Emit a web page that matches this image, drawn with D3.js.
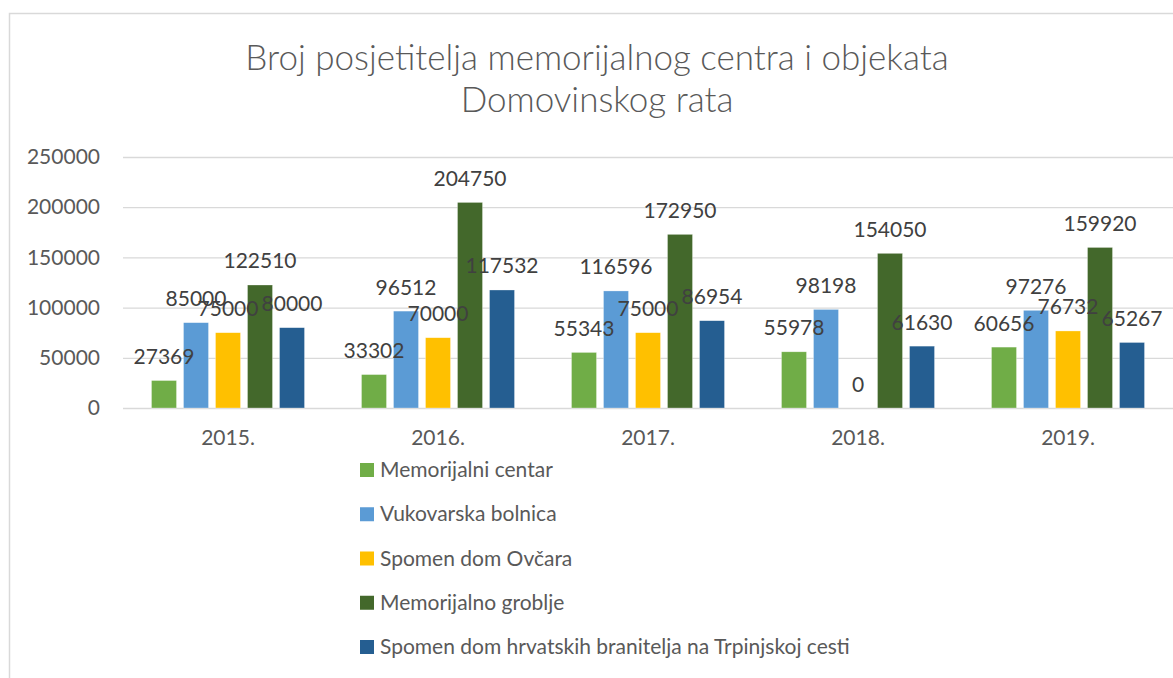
<!DOCTYPE html>
<html>
<head>
<meta charset="utf-8">
<script src="https://cdn.jsdelivr.net/npm/d3@7"></script>
<style>
  body { margin: 0; background: #fff; }
  text { font-family: Lato, 'Open Sans', sans-serif; }
</style>
</head>
<body>
<script>
var years = ['2015.', '2016.', '2017.', '2018.', '2019.']
var seriesNames = ['Memorijalni centar', 'Vukovarska bolnica', 'Spomen dom Ovčara', 'Memorijalno groblje', 'Spomen dom hrvatskih branitelja na Trpinjskoj cesti']
var seriesColors = ['#70ad47', '#5b9bd5', '#ffc000', '#43682b', '#255e91']
var memorijalniCentar = [27369, 33302, 55343, 55978, 60656]
var vukovarskaBolnica = [85000, 96512, 116596, 98198, 97276]
var spomenDomOvcara = [75000, 70000, 75000, 0, 76732]
var memorijalnoGroblje = [122510, 204750, 172950, 154050, 159920]
var spomenDomTrpinjska = [80000, 117532, 86954, 61630, 65267]
var yTicks = [0, 50000, 100000, 150000, 200000, 250000]
var titleLines = ['Broj posjetitelja memorijalnog centra i objekata', 'Domovinskog rata']

var series = [memorijalniCentar, vukovarskaBolnica, spomenDomOvcara, memorijalnoGroblje, spomenDomTrpinjska]

// flat list of {year, series index, value}, used for bars and labels
var cells = []
series.forEach(function(vals, si){
  vals.forEach(function(v, i){ cells.push({year: years[i], si: si, value: v}) })
})

var W = 1173, H = 678
var svg = d3.select('body').append('svg').attr('width', W).attr('height', H)

// chart area border (runs off the right/bottom edge like the screenshot)
svg.append('rect')
    .attr('x', 9.5).attr('y', 13.5).attr('width', W + 20).attr('height', H + 20)
    .style('fill', '#fff').style('stroke', '#d9d9d9').style('stroke-width', 1.5)

svg.append('g').selectAll('text').data(titleLines).join('text')
    .attr('x', 597).attr('y', function(d, i){ return 70 + i * 42 })
    .attr('text-anchor', 'middle')
    .style('font-size', '35px').style('font-weight', 300).style('fill', '#595959')
    .text(function(d){ return d })

var x0 = d3.scaleBand().domain(years).range([123, W]).paddingInner(0.2714).paddingOuter(0.1357)
var x1 = d3.scaleBand().domain(d3.range(series.length)).range([0, x0.bandwidth()]).paddingInner(7 / 32)
var y = d3.scaleLinear().domain([0, 250000]).range([408, 157])

var yAxis = svg.append('g').attr('transform', 'translate(123,0)')
    .call(d3.axisLeft(y).tickValues(yTicks).tickSize(-(W - 123)).tickPadding(23).tickFormat(d3.format('d')))
yAxis.select('.domain').remove()
yAxis.selectAll('line').style('stroke', '#d9d9d9').style('stroke-width', 1.3)
yAxis.selectAll('text').style('font-size', '21px').style('fill', '#595959')

var xAxis = svg.append('g').attr('transform', 'translate(0,408)')
    .call(d3.axisBottom(x0).tickSize(0).tickPadding(0))
xAxis.select('.domain').remove()
xAxis.selectAll('text').attr('y', 37).attr('dy', 0).style('font-size', '21px').style('fill', '#595959')

function cx(d){ return x0(d.year) + x1(d.si) }

svg.append('g').selectAll('rect').data(cells).join('rect')
    .attr('x', cx)
    .attr('y', function(d){ return y(d.value) })
    .attr('width', x1.bandwidth())
    .attr('height', function(d){ return y(0) - y(d.value) })
    .style('fill', function(d){ return seriesColors[d.si] })
    .style('stroke', '#fff').style('stroke-width', 0.6).style('stroke-opacity', 0.5)

svg.append('g').selectAll('text').data(cells).join('text')
    .attr('x', function(d){ return cx(d) + x1.bandwidth() / 2 })
    .attr('y', function(d){ return y(d.value) - 16.5 })
    .attr('text-anchor', 'middle')
    .style('font-size', '21px').style('fill', '#404040')
    .text(function(d){ return d.value })

var legend = svg.append('g').selectAll('g').data(seriesNames).join('g')
    .attr('transform', function(d, i){ return 'translate(360,' + (463 + i * 44.25) + ')' })
legend.append('rect').attr('width', 14).attr('height', 14)
    .style('fill', function(d, i){ return seriesColors[i] })
legend.append('text').attr('x', 20).attr('y', 14)
    .style('font-size', '21px').style('fill', '#595959')
    .text(function(d){ return d })
</script>
</body>
</html>
